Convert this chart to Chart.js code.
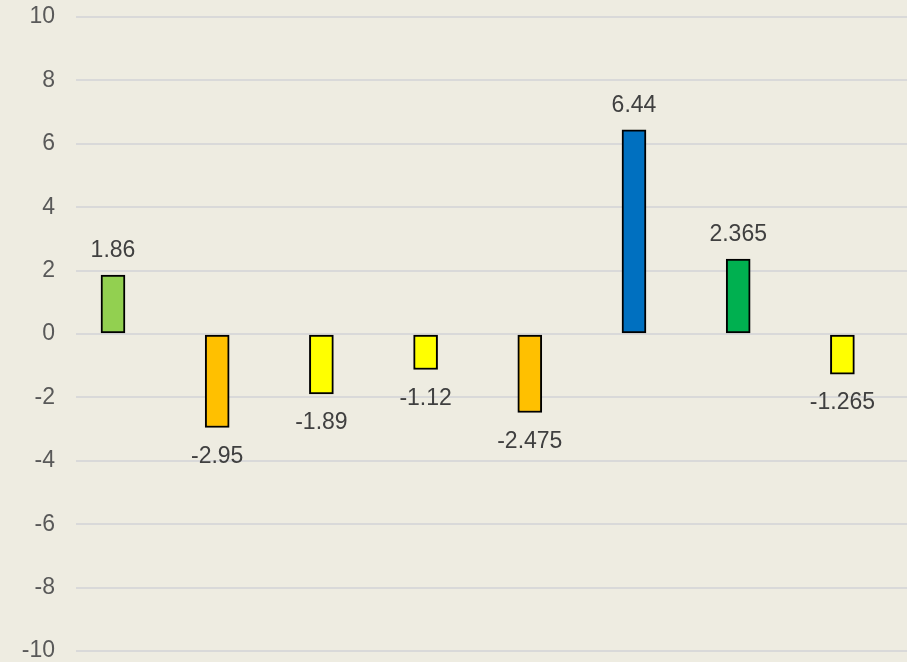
<!DOCTYPE html>
<html>
<head>
<meta charset="utf-8">
<script src="https://cdn.jsdelivr.net/npm/chart.js@4/dist/chart.umd.min.js"></script>
<style>
  body { margin: 0; background: #EEECE1; overflow: hidden; }
  canvas { display: block; }
</style>
</head>
<body>
<canvas id="barChart" width="907" height="662"></canvas>
<script>
// Chart values
const categories = ["1", "2", "3", "4", "5", "6", "7", "8"];
const values = [1.86, -2.95, -1.89, -1.12, -2.475, 6.44, 2.365, -1.265];
const barColors = ["#92D050", "#FFC000", "#FFFF00", "#FFFF00", "#FFC000", "#0070C0", "#00B050", "#FFFF00"];
const yTicks = [-10, -8, -6, -4, -2, 0, 2, 4, 6, 8, 10];

const fontFamily = "'Liberation Sans', Arial, sans-serif";

// Value labels above / below each bar
const valueLabels = {
  id: "valueLabels",
  afterDatasetsDraw(chart) {
    const ctx = chart.ctx;
    const meta = chart.getDatasetMeta(0);
    ctx.save();
    ctx.font = "23px " + fontFamily;
    ctx.fillStyle = "#404040";
    ctx.textAlign = "center";
    ctx.textBaseline = "middle";
    meta.data.forEach((bar, i) => {
      const v = values[i];
      const y = v >= 0 ? bar.y - 24 : bar.y + 29;
      ctx.fillText(String(v), bar.x, y);
    });
    ctx.restore();
  }
};

new Chart(document.getElementById("barChart"), {
  type: "bar",
  data: {
    labels: categories,
    datasets: [{
      data: values.map((v, i) => ({ x: i, y: v })),
      backgroundColor: barColors,
      borderColor: "#000000",
      borderWidth: 2,
      borderSkipped: false,
      barThickness: 24
    }]
  },
  options: {
    responsive: false,
    animation: false,
    layout: { padding: { top: 17, bottom: 11, left: 0, right: 0 } },
    plugins: {
      legend: { display: false },
      tooltip: { enabled: false }
    },
    scales: {
      x: {
        type: "linear",
        display: false,
        offset: false,
        min: -0.355,
        max: 7.62
      },
      y: {
        min: -10,
        max: 10,
        afterBuildTicks: (scale) => { scale.ticks = yTicks.map(v => ({ value: v })); },
        afterFit: (scale) => {
          scale.width = 76;
          scale.paddingTop = 0;
          scale.paddingBottom = 0;
        },
        border: { display: false },
        grid: { color: "#D9D9D9", lineWidth: 2, drawTicks: false },
        ticks: {
          color: "#595959",
          padding: 21,
          font: { size: 23, family: fontFamily }
        }
      }
    }
  },
  plugins: [valueLabels]
});
</script>
</body>
</html>
